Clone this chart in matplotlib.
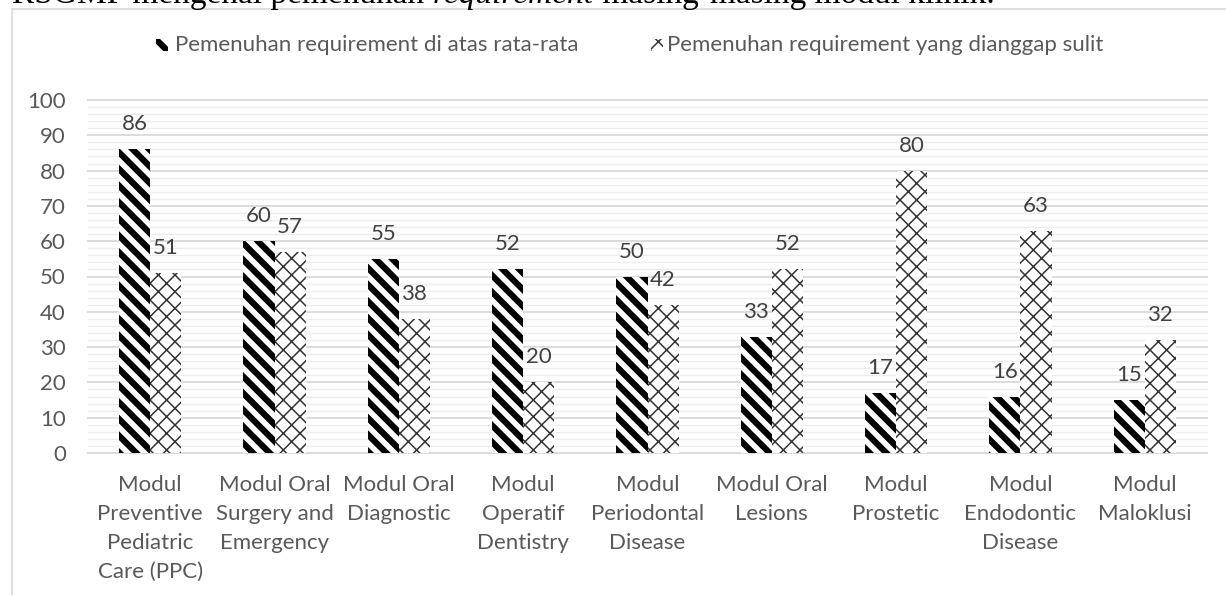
import matplotlib
matplotlib.use('Agg')
import matplotlib.pyplot as plt
from matplotlib.patches import Rectangle
from matplotlib.lines import Line2D
import numpy as np

categories = [
    "Modul\nPreventive\nPediatric\nCare (PPC)",
    "Modul Oral\nSurgery and\nEmergency",
    "Modul Oral\nDiagnostic",
    "Modul\nOperatif\nDentistry",
    "Modul\nPeriodontal\nDisease",
    "Modul Oral\nLesions",
    "Modul\nProstetic",
    "Modul\nEndodontic\nDisease",
    "Modul\nMaloklusi",
]
above_avg = [86, 60, 55, 52, 50, 33, 17, 16, 15]
difficult = [51, 57, 38, 20, 42, 52, 80, 63, 32]
series_labels = ["Pemenuhan requirement di atas rata-rata",
                 "Pemenuhan requirement yang dianggap sulit"]
yticks = list(range(0, 101, 10))
minor_yticks = list(range(0, 101, 2))
title_parts = [("RSGMP mengenai pemenuhan ", "normal"),
               ("requirement", "italic"),
               (" masing-masing modul klinik.", "normal")]

W, H = 1226, 595
plt.rcParams['font.family'] = ['Lato', 'DejaVu Sans']
fig = plt.figure(figsize=(W / 100, H / 100), dpi=100)

TXT = '#595959'
FS = 16

ax = fig.add_axes([88 / W, (H - 453) / H, (1207 - 88) / W, (453 - 100) / H])
x = np.arange(len(categories))
bw = 0.25

b1 = ax.bar(x - bw / 2, above_avg, bw, color='white', edgecolor='black',
            linewidth=0, hatch='\\\\', zorder=3)
b2 = ax.bar(x + bw / 2, difficult, bw, color='white', edgecolor='#333333',
            linewidth=0, hatch='xx', zorder=3)
for p in b1:
    try:
        p.set_hatch_linewidth(4.5)
    except AttributeError:
        pass
for p in b2:
    try:
        p.set_hatch_linewidth(1.1)
    except AttributeError:
        pass

for yv in minor_yticks:
    if yv % 10:
        ax.axhline(yv, color='#ececec', lw=1.0, zorder=1, clip_on=False)
for yv in yticks:
    ax.axhline(yv, color='#d9d9d9', lw=1.3, zorder=2, clip_on=False)

for bars, vals in ((b1, above_avg), (b2, difficult)):
    for rect, v in zip(bars, vals):
        ax.annotate(str(v), (rect.get_x() + rect.get_width() / 2, v),
                    xytext=(0, 25), textcoords='offset pixels',
                    ha='center', va='center', color='#404040', fontsize=FS)

ax.set_xlim(-0.5, len(categories) - 0.5)
ax.set_ylim(0, 100)
ax.set_yticks(yticks)
ax.set_xticks(x)
ax.set_xticklabels(categories, linespacing=1.56)
ax.tick_params(axis='both', length=0, labelsize=FS, labelcolor=TXT)
ax.tick_params(axis='y', pad=16)
ax.tick_params(axis='x', pad=16)
for s in ax.spines.values():
    s.set_visible(False)

# outer frame
fig.add_artist(Line2D([12 / W, 1], [1 - 9 / H, 1 - 9 / H], color='#d9d9d9',
                      lw=1.2, transform=fig.transFigure))
fig.add_artist(Line2D([12 / W, 12 / W], [0, 1 - 9 / H], color='#d9d9d9',
                      lw=1.2, transform=fig.transFigure))

# legend (manual)
ly = 1 - 45 / H
key_w, key_h = 12, 12
for (kx, tx, hatch, ec, hlw, lab) in (
        (156, 175, '\\\\', 'black', 4.5, series_labels[0]),
        (651, 667, 'xx', '#333333', 1.1, series_labels[1])):
    r = Rectangle((kx / W, ly - key_h / 2 / H), key_w / W, key_h / H,
                  transform=fig.transFigure, facecolor='white', edgecolor=ec,
                  linewidth=0, hatch=hatch)
    try:
        r.set_hatch_linewidth(hlw)
    except AttributeError:
        pass
    fig.add_artist(r)
    fig.text(tx / W, ly, lab, ha='left', va='center', color=TXT, fontsize=FS)

# cut-off document text above the chart
renderer = fig.canvas.get_renderer()
cx = 12
for txt, style in title_parts:
    t = fig.text(cx / W, 1 - 2.5 / H, txt, ha='left', va='baseline',
                 fontsize=24, family='Liberation Serif', style=style,
                 color='black')
    bb = t.get_window_extent(renderer)
    cx = bb.x1

fig.savefig('out.png', dpi=100)
